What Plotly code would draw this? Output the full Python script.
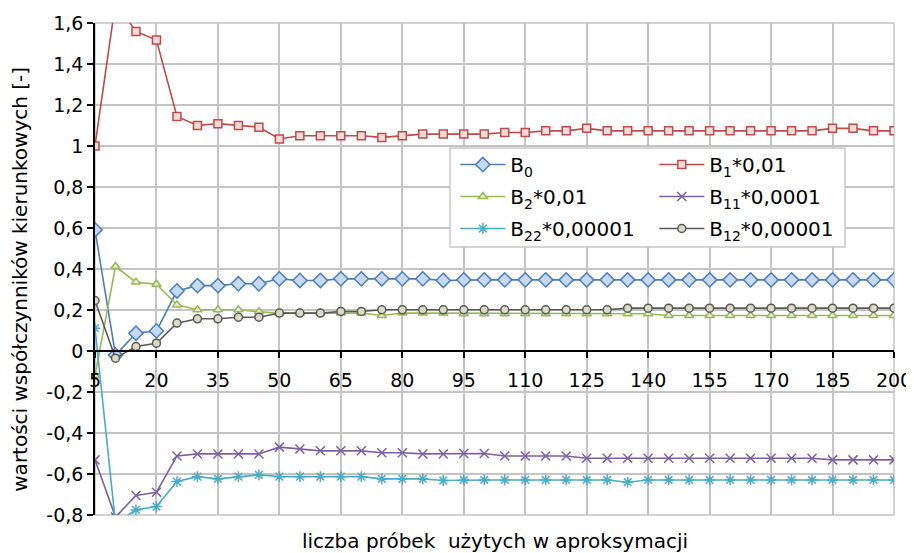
import plotly.graph_objects as go

# liczba probek: 5, 10, ..., 200
n_samples = list(range(5, 201, 5))

b0 = [0.591, -0.02, 0.087, 0.098, 0.293, 0.319, 0.319, 0.328, 0.328, 0.352,
      0.344, 0.344, 0.352, 0.352, 0.352, 0.352, 0.352, 0.344, 0.347, 0.347,
      0.347, 0.347, 0.347, 0.347, 0.347, 0.347, 0.347, 0.347, 0.347, 0.347,
      0.347, 0.347, 0.347, 0.347, 0.347, 0.347, 0.347, 0.347, 0.347, 0.347]
b1 = [1.0, 1.7, 1.559, 1.517, 1.144, 1.100, 1.109, 1.100, 1.092, 1.034,
      1.050, 1.050, 1.050, 1.050, 1.042, 1.050, 1.058, 1.058, 1.058, 1.058,
      1.066, 1.066, 1.074, 1.074, 1.086, 1.074, 1.074, 1.074, 1.074, 1.074,
      1.074, 1.074, 1.074, 1.074, 1.074, 1.074, 1.086, 1.086, 1.074, 1.074]
b2 = [-0.12, 0.412, 0.336, 0.326, 0.225, 0.201, 0.201, 0.201, 0.191, 0.185,
      0.185, 0.185, 0.185, 0.185, 0.173, 0.185, 0.185, 0.185, 0.182, 0.182,
      0.182, 0.182, 0.182, 0.182, 0.182, 0.182, 0.182, 0.182, 0.173, 0.173,
      0.173, 0.173, 0.173, 0.173, 0.173, 0.173, 0.173, 0.173, 0.173, 0.173]
b11 = [-0.531, -0.81, -0.705, -0.689, -0.512, -0.502, -0.502, -0.502, -0.502, -0.469,
       -0.478, -0.487, -0.487, -0.487, -0.496, -0.496, -0.502, -0.502, -0.500, -0.500,
       -0.512, -0.512, -0.512, -0.512, -0.523, -0.523, -0.523, -0.523, -0.523, -0.523,
       -0.523, -0.523, -0.523, -0.523, -0.523, -0.523, -0.531, -0.531, -0.531, -0.531]
b22 = [0.111, -0.84, -0.775, -0.759, -0.637, -0.613, -0.624, -0.613, -0.604, -0.613,
       -0.613, -0.613, -0.613, -0.613, -0.624, -0.624, -0.624, -0.632, -0.629, -0.629,
       -0.629, -0.629, -0.629, -0.629, -0.629, -0.629, -0.640, -0.629, -0.629, -0.629,
       -0.629, -0.629, -0.629, -0.629, -0.629, -0.629, -0.629, -0.629, -0.629, -0.629]
b12 = [0.246, -0.035, 0.022, 0.038, 0.136, 0.157, 0.157, 0.165, 0.165, 0.185,
       0.185, 0.185, 0.193, 0.193, 0.201, 0.201, 0.201, 0.201, 0.201, 0.201,
       0.201, 0.201, 0.201, 0.201, 0.201, 0.201, 0.209, 0.209, 0.209, 0.209,
       0.209, 0.209, 0.209, 0.209, 0.209, 0.209, 0.209, 0.209, 0.209, 0.209]

y_ticks = [-0.8, -0.6, -0.4, -0.2, 0, 0.2, 0.4, 0.6, 0.8, 1, 1.2, 1.4, 1.6]
y_tick_labels = ["-0,8", "-0,6", "-0,4", "-0,2", "0", "0,2", "0,4", "0,6",
                 "0,8", "1", "1,2", "1,4", "1,6"]

FONT = "DejaVu Sans"
GRID = "#c4c4c4"

fig = go.Figure()

# the legend is split into two columns (legend / legend2) inside one grey box
def add_series(y, name, color, symbol, fill, size, legend):
    fig.add_trace(go.Scatter(
        x=n_samples, y=y, name=name, mode="lines+markers",
        legend=legend, legendgroup=name,
        line=dict(color=color, width=1.6),
        marker=dict(symbol=symbol, size=size, color=fill,
                    line=dict(color=color, width=1.5)),
    ))

add_series(b0, "B<sub>0</sub>", "#4a7ebb", "diamond", "#c6d9f1", 11, "legend")
add_series(b1, "B<sub>1</sub>*0,01", "#be4b48", "square", "#f2dcdb", 8, "legend2")
add_series(b2, "B<sub>2</sub>*0,01", "#98b954", "triangle-up", "#e4edd2", 8, "legend")
add_series(b11, "B<sub>11</sub>*0,0001", "#7d60a0", "x-thin-open", "#7d60a0", 9, "legend2")
add_series(b22, "B<sub>22</sub>*0,00001", "#4bacc6", "asterisk-open", "#4bacc6", 9, "legend")
add_series(b12, "B<sub>12</sub>*0,00001", "#595959", "circle", "#ddd9c3", 8, "legend2")

legend_style = dict(
    yanchor="top", xanchor="left", y=0.752,
    bgcolor="rgba(0,0,0,0)", borderwidth=0,
    itemwidth=45, tracegroupgap=3, font=dict(family=FONT, size=20),
)

# page has an 8px body margin, margins below compensate for it
fig.update_layout(
    width=914, height=553,
    margin=dict(l=87, r=28, t=15, b=46),
    paper_bgcolor="white", plot_bgcolor="white",
    font=dict(family=FONT, size=19, color="black"),
    showlegend=True,
    legend=dict(x=0.451, **legend_style),
    legend2=dict(x=0.7, **legend_style),
    xaxis=dict(
        range=[5, 200], tick0=5, dtick=15, automargin=False,
        showgrid=True, gridcolor=GRID, gridwidth=1.5,
        anchor="free", position=1 / 3,
        showline=True, linecolor="black", linewidth=1.5,
        ticks="outside", ticklen=6, tickcolor="black", tickwidth=1.5,
        ticklabelstandoff=6,
        zeroline=False, mirror=False,
    ),
    yaxis=dict(
        range=[-0.8, 1.6], tickvals=y_ticks, ticktext=y_tick_labels,
        automargin=False,
        showgrid=True, gridcolor=GRID, gridwidth=1.5,
        showline=True, linecolor="black", linewidth=1.5,
        ticks="outside", ticklen=6, tickcolor="black", tickwidth=1.5,
        zeroline=False,
    ),
    annotations=[
        dict(text="liczba próbek  użytych w aproksymacji",
             xref="paper", yref="paper", x=0.5, y=-0.053,
             xanchor="center", yanchor="middle", showarrow=False,
             font=dict(family=FONT, size=20)),
        dict(text="wartości współczynników kierunkowych [-]",
             xref="paper", yref="paper", x=-0.094, y=0.48, textangle=-90,
             xanchor="center", yanchor="middle", showarrow=False,
             font=dict(family=FONT, size=20)),
    ],
)

# gray frame on the top and right side of the plot area
fig.add_shape(type="rect", xref="paper", yref="paper", x0=0, y0=0, x1=1, y1=1,
              line=dict(color=GRID, width=1.5), layer="below")
# legend box
fig.add_shape(type="rect", xref="paper", yref="paper",
              x0=0.4443, x1=0.9387, y0=0.5447, y1=0.7459,
              fillcolor="white", line=dict(color="#c8c8c8", width=1.5),
              layer="above")

fig.write_html("out.html")
